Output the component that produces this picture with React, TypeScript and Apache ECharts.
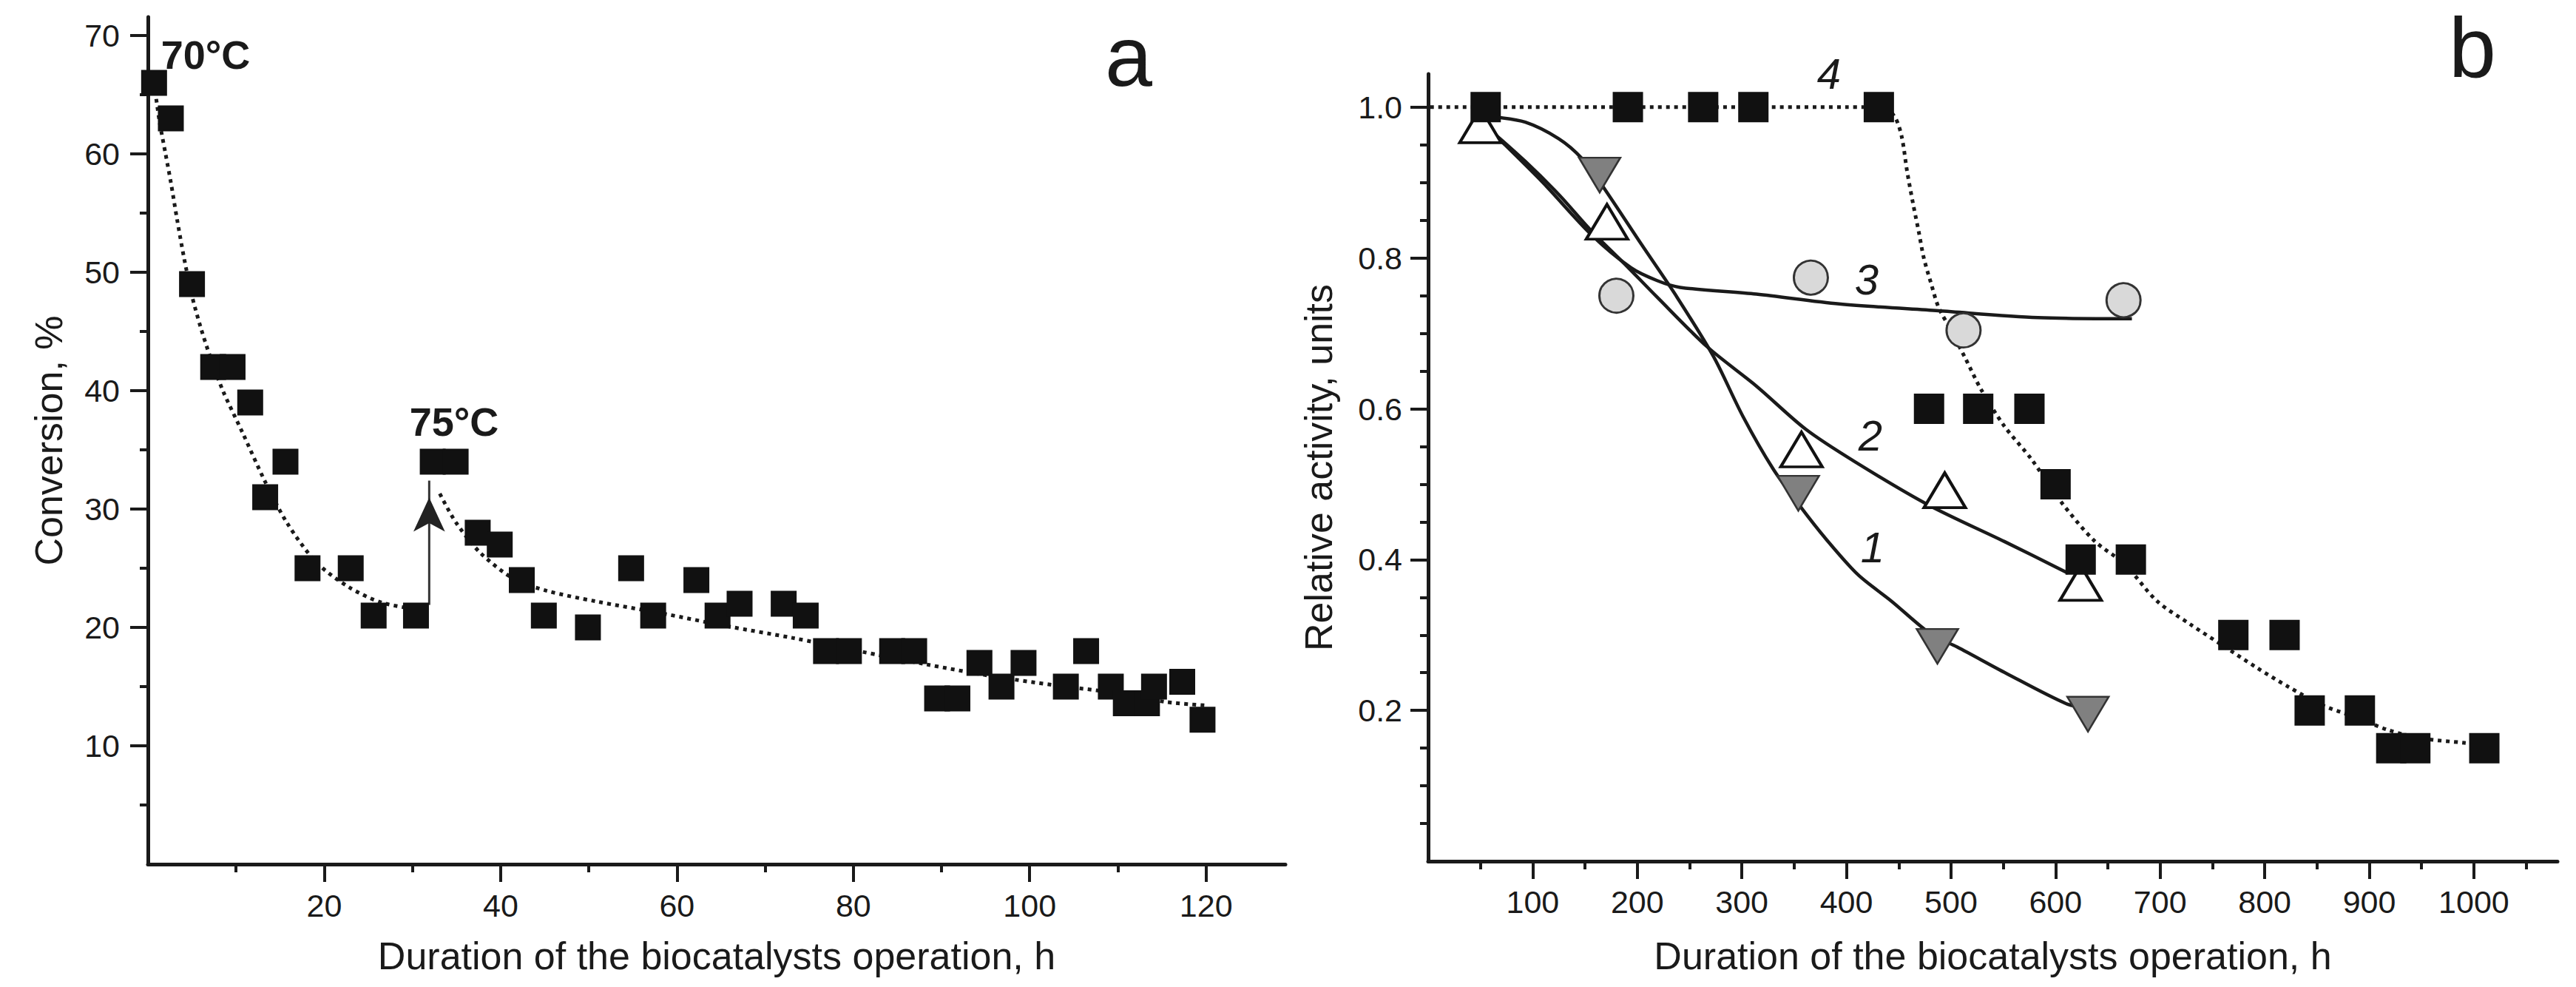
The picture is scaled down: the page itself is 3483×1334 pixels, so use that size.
import React, { useEffect, useRef } from "react";
import * as echarts from "echarts";

// ---------------- Panel a : conversion vs time ----------------
const aTime = [0.7, 2.6, 5.0, 7.4, 9.6, 11.6, 13.3, 15.6, 18.1, 23.0, 25.6, 30.4, 32.3, 34.9, 37.4, 39.9, 42.4, 44.9, 49.9, 54.8, 57.3, 62.2, 64.6, 67.1, 72.1, 74.6, 76.9, 79.5, 84.4, 86.9, 89.5, 91.8, 94.3, 96.8, 99.3, 104.1, 106.4, 109.2, 110.9, 113.3, 114.1, 117.3, 119.6];
const aConv = [66, 63, 49, 42, 42, 39, 31, 34, 25, 25, 21, 21, 34, 34, 28, 27, 24, 21, 20, 25, 21, 24, 21, 22, 22, 21, 18, 18, 18, 18, 14, 14, 17, 15, 17, 15, 18, 15, 13.6, 13.6, 15, 15.4, 12.2];

const aFit70Time = [0.7, 1.3, 2.0, 2.6, 3.3, 4.1, 5.0, 6.0, 7.0, 8.5, 10.7, 13.3, 15.8, 19.1, 22.8, 26.5, 30.7];
const aFit70Conv = [66, 62.8, 60, 57.6, 54.5, 51.2, 48, 45.3, 43, 40, 36.5, 32.3, 28.8, 25.5, 23.4, 22.1, 21.5];

const aFit75Time = [33.1, 34.9, 37.7, 41.5, 45.2, 50.8, 58.2, 65.7, 73.2, 80.6, 88.1, 95.6, 103, 110.5, 115.5, 120.2];
const aFit75Conv = [31.3, 28.9, 26.3, 24.1, 23.1, 22.2, 21.2, 20.1, 19.1, 18, 16.9, 15.9, 15.1, 14.4, 13.7, 13.4];

const aArrowTime = [31.9, 31.9];
const aArrowConv = [21.9, 32.4];

const aXMajor = [20, 40, 60, 80, 100, 120];
const aXMinor = [10, 30, 50, 70, 90, 110];
const aYMajor = [10, 20, 30, 40, 50, 60, 70];
const aYMinor = [5, 15, 25, 35, 45, 55, 65];

// ---------------- Panel b : relative activity vs time ----------------
const b1Time = [164, 354, 487, 631];
const b1Act = [0.91, 0.488, 0.285, 0.195];
const b1FitTime = [62, 93, 125, 147, 166, 204, 238, 273, 301, 330, 355, 380, 411, 443, 481, 506, 553, 610, 630];
const b1FitAct = [0.987, 0.98, 0.958, 0.932, 0.897, 0.818, 0.748, 0.669, 0.59, 0.52, 0.472, 0.428, 0.38, 0.345, 0.301, 0.284, 0.249, 0.209, 0.203];

const b2Time = [50, 171, 357, 494, 624];
const b2Act = [0.976, 0.848, 0.546, 0.492, 0.369];
const b2FitTime = [55, 93, 125, 156, 188, 219, 267, 314, 361, 409, 479, 551, 612];
const b2FitAct = [0.975, 0.928, 0.884, 0.836, 0.792, 0.748, 0.682, 0.63, 0.573, 0.529, 0.472, 0.424, 0.382];

const b3Time = [180, 366, 512, 665];
const b3Act = [0.75, 0.774, 0.704, 0.744];
const b3FitTime = [55, 109, 156, 194, 219, 241, 314, 393, 488, 583, 673];
const b3FitAct = [0.975, 0.901, 0.831, 0.787, 0.77, 0.761, 0.752, 0.739, 0.73, 0.721, 0.7195];

const b4Time = [55, 191, 263, 311, 431, 479, 526, 575, 600, 624, 672, 770, 819, 843, 891, 921, 944, 1010];
const b4Act = [1.0, 1.0, 1.0, 1.0, 1.0, 0.6, 0.6, 0.6, 0.5, 0.4, 0.4, 0.3, 0.3, 0.2, 0.2, 0.15, 0.15, 0.15];
const b4FitTime = [2, 100, 200, 300, 400, 436, 447, 453, 458, 464, 469, 474, 481, 488, 500, 513, 529, 551, 577, 605, 637, 666, 697, 729, 760, 792, 823, 855, 887, 918, 950, 991, 1010];
const b4FitAct = [1.0, 1.0, 1.0, 1.0, 1.0, 1.0, 0.985, 0.96, 0.915, 0.87, 0.836, 0.8, 0.766, 0.735, 0.704, 0.669, 0.625, 0.577, 0.533, 0.477, 0.425, 0.394, 0.345, 0.314, 0.286, 0.257, 0.231, 0.207, 0.191, 0.174, 0.163, 0.157, 0.154];

const bXMajor = [100, 200, 300, 400, 500, 600, 700, 800, 900, 1000];
const bXMinor = [50, 150, 250, 350, 450, 550, 650, 750, 850, 950, 1050];
const bYMajor = [0.2, 0.4, 0.6, 0.8, 1.0];
const bYMinor = [0.05, 0.1, 0.15, 0.25, 0.3, 0.35, 0.45, 0.5, 0.55, 0.65, 0.7, 0.75, 0.85, 0.9, 0.95];

const xTitle = "Duration of the biocatalysts operation, h";
const aYTitle = "Conversion, %";
const bYTitle = "Relative activity, units";

// ---------------- styling ----------------
const INK = "#1a1a1a";
const FONT = "'Liberation Sans', Arial, Helvetica, sans-serif";

const zip = (xs: number[], ys: number[]) => xs.map((x, i) => [x, ys[i]]);

function majorAxis(
  gridIndex: number,
  min: number,
  max: number,
  ticks: number[],
  position: string,
  margin: number,
  name: string,
  nameGap: number,
  fmt?: (v: number) => string
) {
  return {
    type: "value",
    gridIndex,
    min,
    max,
    position,
    name,
    nameLocation: "middle",
    nameGap,
    nameTextStyle: { fontSize: 52, color: INK, fontFamily: FONT },
    axisLine: { show: true, onZero: false, lineStyle: { color: INK, width: 5 } },
    axisTick: { show: true, customValues: ticks, length: 24, lineStyle: { color: INK, width: 4 } },
    axisLabel: {
      show: true,
      customValues: ticks,
      margin,
      fontSize: 43,
      color: INK,
      fontFamily: FONT,
      formatter: fmt || ((v: number) => String(v)),
    },
    splitLine: { show: false },
    axisPointer: { show: false },
  };
}

function minorAxis(gridIndex: number, min: number, max: number, ticks: number[], position: string) {
  return {
    type: "value",
    gridIndex,
    min,
    max,
    position,
    axisLine: { show: false, onZero: false },
    axisTick: { show: true, customValues: ticks, length: 11, lineStyle: { color: INK, width: 4 } },
    axisLabel: { show: false },
    splitLine: { show: false },
  };
}

const dotted = { type: [5, 6], width: 5, color: INK, cap: "butt" };
const solid = { type: "solid", width: 4.5, color: INK };

function fitLine(xi: number, yi: number, data: number[][], lineStyle: any) {
  return {
    type: "line",
    xAxisIndex: xi,
    yAxisIndex: yi,
    data,
    showSymbol: false,
    smooth: 0.3,
    lineStyle,
    z: 2,
    silent: true,
  };
}

function markers(xi: number, yi: number, data: number[][], extra: any) {
  return {
    type: "scatter",
    xAxisIndex: xi,
    yAxisIndex: yi,
    data,
    z: 3,
    silent: true,
    ...extra,
  };
}

export default function App() {
  const ref = useRef<HTMLDivElement>(null);

  useEffect(() => {
    if (!ref.current) return;
    const chart = echarts.init(ref.current, undefined, { renderer: "svg" });

    const textStyle = (text: string, x: number, y: number, size: number, weight: string, style: string) => ({
      type: "text",
      silent: true,
      style: {
        text,
        x,
        y,
        fontSize: size,
        fontWeight: weight,
        fontStyle: style,
        fontFamily: FONT,
        fill: INK,
        align: "center",
        verticalAlign: "middle",
      },
    });

    const option: any = {
      animation: false,
      backgroundColor: "#ffffff",
      grid: [
        { left: 200, top: 23, width: 1538, height: 1145 },
        { left: 1931, top: 100, width: 1527, height: 1064 },
      ],
      xAxis: [
        majorAxis(0, 0, 129, aXMajor, "bottom", 34, xTitle, 98),
        minorAxis(0, 0, 129, aXMinor, "bottom"),
        majorAxis(1, 0, 1080, bXMajor, "bottom", 33, xTitle, 102),
        minorAxis(1, 0, 1080, bXMinor, "bottom"),
      ],
      yAxis: [
        majorAxis(0, 0, 71.56, aYMajor, "left", 38, aYTitle, 108),
        minorAxis(0, 0, 71.56, aYMinor, "left"),
        majorAxis(1, 0, 1.044, bYMajor, "left", 35, bYTitle, 122, (v: number) => v.toFixed(1)),
        minorAxis(1, 0, 1.044, bYMinor, "left"),
      ],
      series: [
        // panel a
        fitLine(0, 0, zip(aFit70Time, aFit70Conv), dotted),
        fitLine(0, 0, zip(aFit75Time, aFit75Conv), dotted),
        {
          type: "line",
          xAxisIndex: 0,
          yAxisIndex: 0,
          silent: true,
          showSymbol: true,
          z: 2,
          lineStyle: { color: "#333333", width: 3 },
          itemStyle: { color: "#222222", opacity: 1 },
          data: [
            { value: [aArrowTime[0], aArrowConv[0]], symbol: "none" },
            { value: [aArrowTime[1], aArrowConv[1]], symbol: "arrow", symbolSize: [32, 46], symbolOffset: [0, 23] },
          ],
        },
        markers(0, 0, zip(aTime, aConv), { symbol: "rect", symbolSize: 35, itemStyle: { color: "#111111", opacity: 1 } }),

        // panel b curves
        fitLine(2, 2, zip(b4FitTime, b4FitAct), dotted),
        fitLine(2, 2, zip(b3FitTime, b3FitAct), solid),
        fitLine(2, 2, zip(b2FitTime, b2FitAct), solid),
        fitLine(2, 2, zip(b1FitTime, b1FitAct), solid),

        // panel b markers
        markers(2, 2, zip(b1Time, b1Act), {
          symbol: "triangle",
          symbolRotate: 180,
          symbolSize: [56, 47],
          itemStyle: { color: "#808080", borderColor: "#333333", borderWidth: 2.5, opacity: 1 },
        }),
        markers(2, 2, zip(b2Time, b2Act), {
          symbol: "triangle",
          symbolSize: [56, 47],
          itemStyle: { color: "#ffffff", borderColor: "#111111", borderWidth: 4, opacity: 1 },
        }),
        markers(2, 2, zip(b3Time, b3Act), {
          symbol: "circle",
          symbolSize: 46,
          itemStyle: { color: "#d9d9d9", borderColor: "#333333", borderWidth: 3, opacity: 1 },
        }),
        markers(2, 2, zip(b4Time, b4Act), { symbol: "rect", symbolSize: 41, itemStyle: { color: "#111111", opacity: 1 } }),
      ],
      graphic: [
        textStyle("70°C", 278, 74, 54, "bold", "normal"),
        textStyle("75°C", 614, 570, 54, "bold", "normal"),
        textStyle("a", 1526, 76, 115, "normal", "normal"),
        textStyle("b", 3343, 64, 115, "normal", "normal"),
        textStyle("4", 2473, 99, 58, "normal", "italic"),
        textStyle("3", 2524, 377, 58, "normal", "italic"),
        textStyle("2", 2529, 588, 58, "normal", "italic"),
        textStyle("1", 2532, 739, 58, "normal", "italic"),
      ],
    };

    chart.setOption(option);
    return () => chart.dispose();
  }, []);

  return (
    <div
      ref={ref}
      style={{ position: "absolute", left: 0, top: 0, width: 3483, height: 1334, background: "#fff" }}
    />
  );
}
